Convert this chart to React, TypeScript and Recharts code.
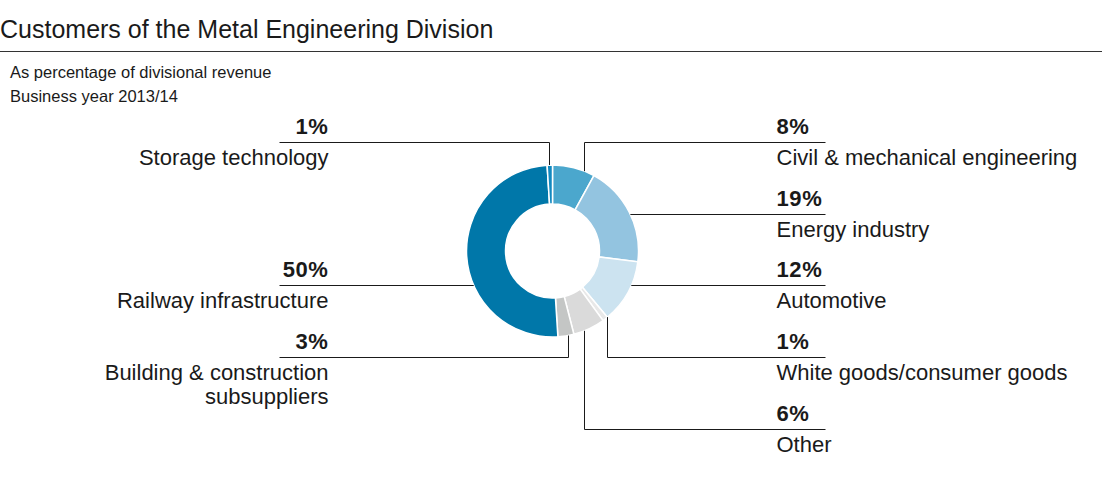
import React from 'react'
import { PieChart, Pie, Cell } from 'recharts'

// clockwise from 12 o'clock
const categories = [
  'Civil & mechanical engineering',
  'Energy industry',
  'Automotive',
  'White goods/consumer goods',
  'Other',
  'Building & construction\nsubsuppliers',
  'Railway infrastructure',
  'Storage technology',
]
const shares = [8, 19, 12, 1, 6, 3, 50, 1]
const colors = [
  '#4ba7cd',
  '#93c4e0',
  '#cce3f0',
  '#e8e8e8',
  '#dadada',
  '#c4c6c5',
  '#0077a9',
  '#1289c0',
]

// where each label sits: side, row of the underline, how the leader meets the ring,
// and (for vertical leaders) how far through the slice the leader drops
const labelLayout = [
  { side: 'right', row: 0, attach: 'vertical', at: 0.75 },
  { side: 'right', row: 1, attach: 'horizontal', at: 0.5 },
  { side: 'right', row: 2, attach: 'horizontal', at: 0.5 },
  { side: 'right', row: 3, attach: 'vertical', at: 0.12 },
  { side: 'right', row: 4, attach: 'vertical', at: 0.67 },
  { side: 'left', row: 3, attach: 'vertical', at: 0.37 },
  { side: 'left', row: 2, attach: 'horizontal', at: 0.5 },
  { side: 'left', row: 0, attach: 'vertical', at: 0.36 },
]
const rowY = [142, 214, 285, 357, 429]

const W = 1102
const H = 477
const CX = 552.5
const CY = 251
const OUTER = 86
const INNER = 47
const TEXT_OFFSET = 224
const LINE_OFFSET = 273
const INK = '#1a1a1a'
const FONT = '"Liberation Sans", Arial, Helvetica, sans-serif'

const data = categories.map((name, i) => ({ name, value: shares[i] }))

function LeaderLabel(props: any) {
  const { cx, cy, startAngle, endAngle, outerRadius, index, value, name } = props
  const lay = labelLayout[index]
  const dir = lay.side === 'right' ? 1 : -1
  const y = rowY[lay.row] + 0.5
  const lineEnd = cx + dir * LINE_OFFSET
  const textX = cx + dir * TEXT_OFFSET
  const angle = startAngle + (endAngle - startAngle) * lay.at
  const rad = (angle * Math.PI) / 180
  let path = ''
  if (lay.attach === 'horizontal') {
    const dy = y - cy
    const x = cx + dir * Math.sqrt(Math.max(outerRadius * outerRadius - dy * dy, 0))
    path = `M${x},${y}H${lineEnd}`
  } else {
    const x = Math.round(cx + outerRadius * Math.cos(rad)) + 0.5
    const dx = x - cx
    const edge = Math.sqrt(Math.max(outerRadius * outerRadius - dx * dx, 0))
    const yEdge = y < cy ? cy - edge : cy + edge
    path = `M${x},${yEdge}V${y}H${lineEnd}`
  }
  const lines = String(name).split('\n')
  const anchor = dir === 1 ? 'start' : 'end'
  return (
    <g>
      <path d={path} stroke={INK} strokeWidth={1} fill="none" />
      <text
        x={textX}
        y={y - 9}
        textAnchor={anchor}
        fontFamily={FONT}
        fontSize={22}
        fontWeight="bold"
        letterSpacing={0.6}
        fill={INK}
      >
        {value}%
      </text>
      <text x={textX} y={y + 22} textAnchor={anchor} fontFamily={FONT} fontSize={22} fill={INK}>
        {lines.map((l, i) => (
          <tspan key={i} x={textX} dy={i === 0 ? 0 : 24}>
            {l}
          </tspan>
        ))}
      </text>
    </g>
  )
}

export default function App() {
  return (
    <div
      style={{
        position: 'absolute',
        left: 0,
        top: 0,
        width: W,
        height: H,
        background: '#fff',
        fontFamily: FONT,
        color: INK,
      }}
    >
      <div style={{ position: 'absolute', left: 0, top: 15, fontSize: 25, whiteSpace: 'nowrap' }}>
        Customers of the Metal Engineering Division
      </div>
      <div style={{ position: 'absolute', left: 0, top: 51, width: W, height: 1, background: '#333' }} />
      <div style={{ position: 'absolute', left: 10, top: 60, fontSize: 16.5, lineHeight: '24px', whiteSpace: 'nowrap' }}>
        As percentage of divisional revenue
        <br />
        Business year 2013/14
      </div>
      <div style={{ position: 'absolute', left: 0, top: 0 }}>
        <PieChart width={W} height={H} margin={{ top: 0, right: 0, bottom: 0, left: 0 }}>
          <Pie
            data={data}
            dataKey="value"
            nameKey="name"
            cx={CX}
            cy={CY}
            innerRadius={INNER}
            outerRadius={OUTER}
            startAngle={90}
            endAngle={-270}
            stroke="#ffffff"
            strokeWidth={1.5}
            label={LeaderLabel}
            labelLine={false}
            isAnimationActive={false}
          >
            {data.map((d, i) => (
              <Cell key={d.name} fill={colors[i]} />
            ))}
          </Pie>
        </PieChart>
      </div>
    </div>
  )
}
